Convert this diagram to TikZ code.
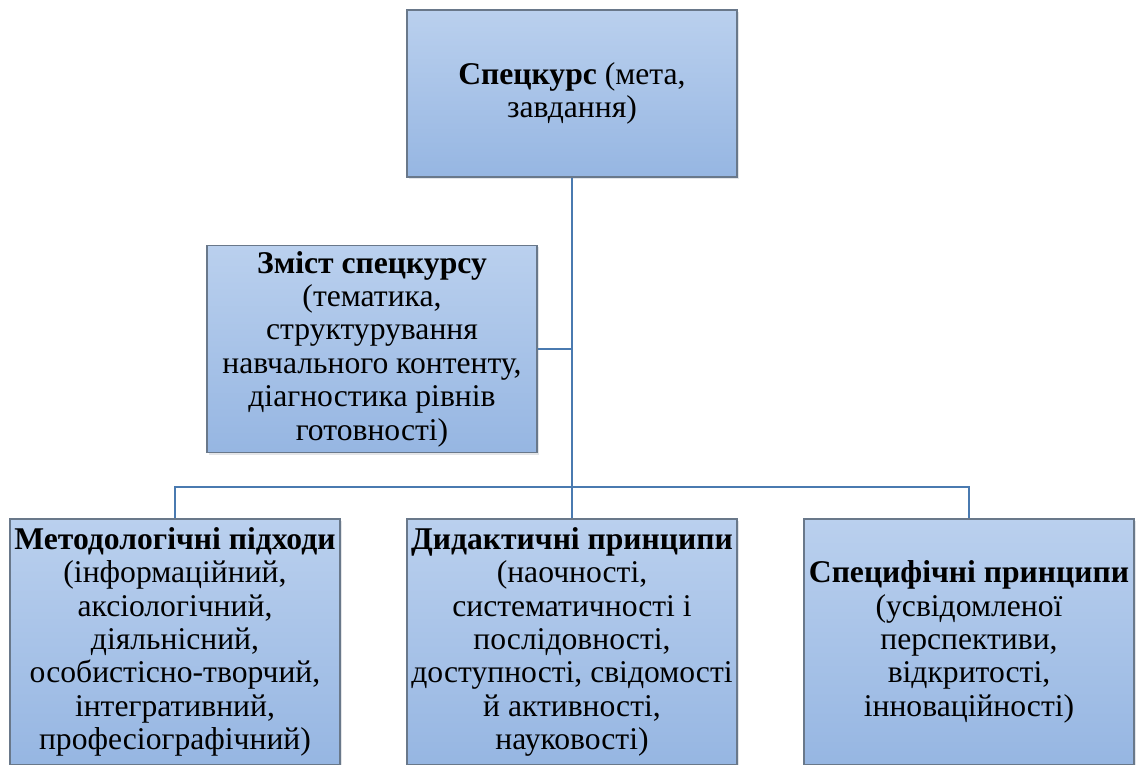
\documentclass[tikz,border=0pt]{standalone}
\usepackage{fontspec}
\setmainfont{Liberation Serif}
\usetikzlibrary{positioning, shadows}
\definecolor{boxtop}{RGB}{186,208,238}
\definecolor{boxbot}{RGB}{150,182,226}
\definecolor{boxline}{RGB}{105,120,138}
\definecolor{linkblue}{RGB}{74,122,176}
\definecolor{shade}{RGB}{200,204,210}

\begin{document}
\begin{tikzpicture}[inner sep=0pt,
      block/.style={rectangle, draw=boxline, line width=0.6pt,
        top color=boxtop, bottom color=boxbot, minimum width=6.6cm,
        align=center, font=\fontsize{18}{19}\selectfont,
        drop shadow={fill=shade, shadow xshift=0.04cm, shadow yshift=-0.04cm}},
      link/.style={draw=linkblue, line width=1.4pt}]
      \useasboundingbox (0,0) rectangle (22.82,-15.3);
      % top
      \node[block, minimum height=3.34cm] (course) at (11.44,-1.87)
        {\textbf{Спецкурс} (мета,\\завдання)};
      % middle
      \node[block, minimum height=4.14cm] (content) at (7.44,-6.98)
        {\textbf{Зміст спецкурсу}\\(тематика,\\структурування\\навчального контенту,\\діагностика рівнів\\готовності)};
      % bottom row
      \node[block, minimum height=4.92cm] (approach) at (3.5,-12.84)
        {\textbf{Методологічні підходи}\\(інформаційний,\\аксіологічний,\\діяльнісний,\\особистісно-творчий,\\інтегративний,\\професіографічний)};
      \node[block, minimum height=4.92cm] (didactic) at (11.44,-12.84)
        {\textbf{Дидактичні принципи}\\(наочності,\\систематичності і\\послідовності,\\доступності, свідомості\\й активності,\\науковості)};
      \node[block, minimum height=4.92cm] (specific) at (19.38,-12.84)
        {\textbf{Специфічні принципи}\\(усвідомленої\\перспективи,\\відкритості,\\інноваційності)};
      % links
      \coordinate (fork) at (11.44,-9.74);
      \draw[link] (course.south) -- (fork);
      \draw[link] (content.east) -- (content.east -| course.south);
      \draw[link] (approach.north) |- (fork) -| (specific.north);
      \draw[link] (fork) -- (didactic.north);
\end{tikzpicture}
\end{document}
